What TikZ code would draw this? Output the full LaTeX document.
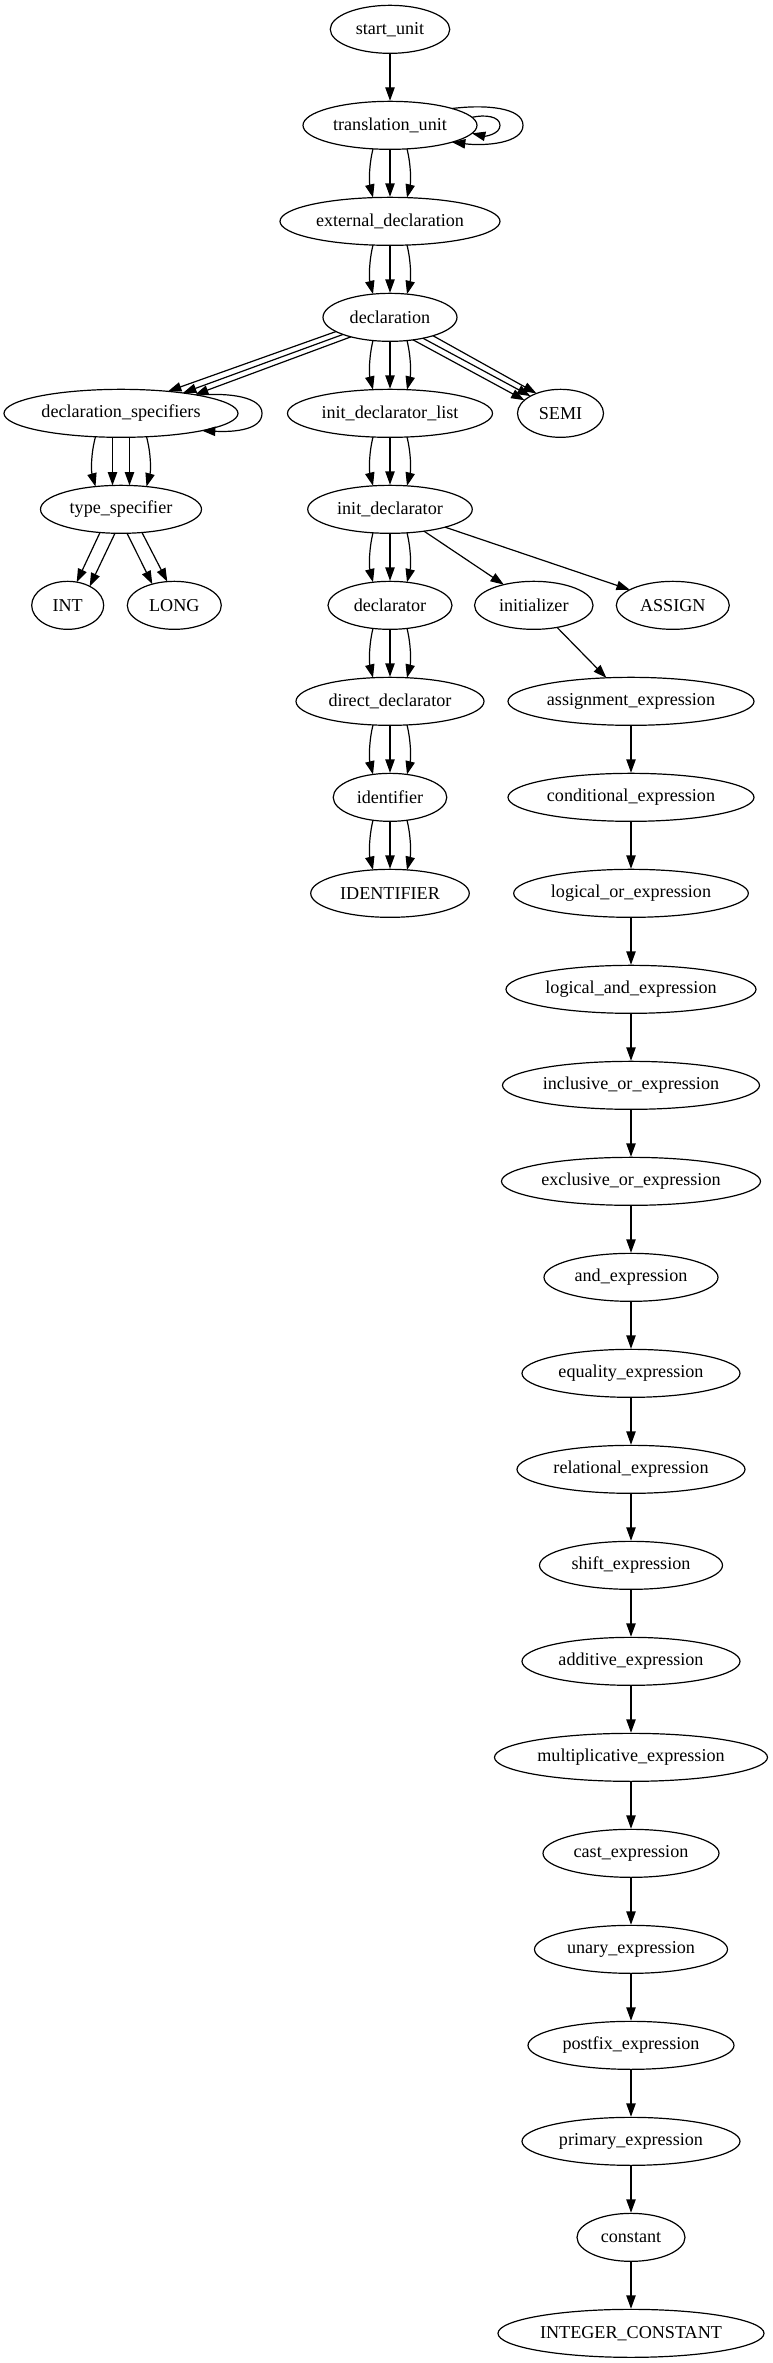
\documentclass[tikz,border=0pt]{standalone}
\usepackage{fontspec}
\setmainfont{Liberation Serif}
\usetikzlibrary{shapes.geometric,arrows.meta,calc}
\newcommand\gvtriple[4]{%
  \draw[gvedge] ($(#1)+(-17,#3)$) .. controls ($(#1)+(-21,#3+16)$) and ($(#2)+(-21,-#4-16)$) .. ($(#2)+(-17,-#4)$);
  \draw[gvedge] (#1) -- (#2);
  \draw[gvedge] ($(#1)+(17,#3)$) .. controls ($(#1)+(21,#3+16)$) and ($(#2)+(21,-#4-16)$) .. ($(#2)+(17,-#4)$);}
\begin{document}
\begin{tikzpicture}[x=0.75pt,y=-0.75pt,
  gv/.style={draw, ellipse, line width=0.9pt, inner sep=0pt, minimum height=36pt, font=\fontsize{13.6}{16}\selectfont},
  gvedge/.style={line width=0.9pt, -{Triangle[length=10pt,width=7pt]}}]
\useasboundingbox[fill=white] (0,0) rectangle (773,2363);
% nodes
\node[gv, minimum width=89.6pt]   (su)   at (390,29.33)   {\makebox[0pt]{start\_unit}};
\node[gv, minimum width=130.5pt]  (tu)   at (390,125.33)  {\makebox[0pt]{translation\_unit}};
\node[gv, minimum width=165pt]    (ed)   at (390,221.33)  {\makebox[0pt]{external\_declaration}};
\node[gv, minimum width=100.5pt]  (dc)   at (390,317.33)  {\makebox[0pt]{declaration}};
\node[gv, minimum width=175.5pt]  (ds)   at (121,413.33)  {\makebox[0pt]{declaration\_specifiers}};
\node[gv, minimum width=153.75pt] (idl)  at (390,413.33)  {\makebox[0pt]{init\_declarator\_list}};
\node[gv, minimum width=64.5pt]   (semi) at (560.5,413.33) {\makebox[0pt]{SEMI}};
\node[gv, minimum width=120.75pt] (ts)   at (121,509.33)  {\makebox[0pt]{type\_specifier}};
\node[gv, minimum width=123.4pt]  (ind)  at (390,509.33)  {\makebox[0pt]{init\_declarator}};
\node[gv, minimum width=54pt]     (int)  at (67.7,605.33) {\makebox[0pt]{INT}};
\node[gv, minimum width=70.5pt]   (long) at (174.3,605.33) {\makebox[0pt]{LONG}};
\node[gv, minimum width=93pt]     (dr)   at (390,605.33)  {\makebox[0pt]{declarator}};
\node[gv, minimum width=88.9pt]   (ini)  at (533.8,605.33) {\makebox[0pt]{initializer}};
\node[gv, minimum width=84.75pt]  (asg)  at (672.8,605.33) {\makebox[0pt]{ASSIGN}};
\node[gv, minimum width=141pt]    (dd)   at (390,701.33)  {\makebox[0pt]{direct\_declarator}};
\node[gv, minimum width=184.5pt]  (ae)   at (631,701.33)  {\makebox[0pt]{assignment\_expression}};
\node[gv, minimum width=85.2pt]   (id)   at (390,797.33)  {\makebox[0pt]{identifier}};
\node[gv, minimum width=184.5pt]  (ce)   at (631,797.33)  {\makebox[0pt]{conditional\_expression}};
\node[gv, minimum width=118.9pt]  (ID)   at (390,893.33)  {\makebox[0pt]{IDENTIFIER}};
\node[gv, minimum width=176pt]    (lor)  at (631,893.33)  {\makebox[0pt]{logical\_or\_expression}};
\node[gv, minimum width=187.5pt]  (land) at (631,989.33)  {\makebox[0pt]{logical\_and\_expression}};
\node[gv, minimum width=192.75pt] (ior)  at (631,1085.33) {\makebox[0pt]{inclusive\_or\_expression}};
\node[gv, minimum width=194.25pt] (xor)  at (631,1181.33) {\makebox[0pt]{exclusive\_or\_expression}};
\node[gv, minimum width=130.5pt]  (and)  at (631,1277.33) {\makebox[0pt]{and\_expression}};
\node[gv, minimum width=163.5pt]  (eq)   at (631,1373.33) {\makebox[0pt]{equality\_expression}};
\node[gv, minimum width=171pt]    (rel)  at (631,1469.33) {\makebox[0pt]{relational\_expression}};
\node[gv, minimum width=137.25pt] (sh)   at (631,1565.33) {\makebox[0pt]{shift\_expression}};
\node[gv, minimum width=163.5pt]  (add)  at (631,1661.33) {\makebox[0pt]{additive\_expression}};
\node[gv, minimum width=204.75pt] (mul)  at (631,1757.33) {\makebox[0pt]{multiplicative\_expression}};
\node[gv, minimum width=132pt]    (cast) at (631,1853.33) {\makebox[0pt]{cast\_expression}};
\node[gv, minimum width=144.75pt] (un)   at (631,1949.33) {\makebox[0pt]{unary\_expression}};
\node[gv, minimum width=154.5pt]  (pf)   at (631,2045.33) {\makebox[0pt]{postfix\_expression}};
\node[gv, minimum width=163.5pt]  (pr)   at (631,2141.33) {\makebox[0pt]{primary\_expression}};
\node[gv, minimum width=81pt]     (cn)   at (631,2237.33) {\makebox[0pt]{constant}};
\node[gv, minimum width=199.5pt]  (ic)   at (631,2333.33) {\makebox[0pt]{INTEGER\_CONSTANT}};
% edges
\draw[gvedge] (su) -- (tu);
% self loops on translation_unit
\draw[gvedge] ($(tu)+(62,-16.8)$) .. controls ($(tu)+(95,-21)$) and ($(tu)+(133,-18)$) .. ($(tu)+(133,0)$) .. controls ($(tu)+(133,18)$) and ($(tu)+(95,21)$) .. ($(tu)+(62,16.8)$);
\draw[gvedge] ($(tu)+(82,-8)$) .. controls ($(tu)+(95,-11)$) and ($(tu)+(110,-9)$) .. ($(tu)+(110,0)$) .. controls ($(tu)+(110,9)$) and ($(tu)+(95,11)$) .. ($(tu)+(82,8)$);
\gvtriple{tu}{ed}{23.54}{23.71}
\gvtriple{ed}{dc}{23.71}{23.21}
\gvtriple{dc}{idl}{23.21}{23.67}
\gvtriple{idl}{ind}{23.67}{23.48}
\gvtriple{ind}{dr}{23.48}{23.08}
\gvtriple{dr}{dd}{23.08}{23.6}
\gvtriple{dd}{id}{23.6}{22.9}
\gvtriple{id}{ID}{22.9}{23.44}
% declaration -> declaration_specifiers
\draw[gvedge] ($(dc)+(-54,14.2)$) -- ($(ds)+(47,-22)$);
\draw[gvedge] ($(dc)+(-47,17.1)$) -- ($(ds)+(62,-20.4)$);
\draw[gvedge] ($(dc)+(-39,19.5)$) -- ($(ds)+(74,-18.6)$);
% declaration -> SEMI
\draw[gvedge] ($(dc)+(23,22.5)$) -- ($(semi)+(-36,-13.1)$);
\draw[gvedge] ($(dc)+(33,20.9)$) -- ($(semi)+(-30,-17.2)$);
\draw[gvedge] ($(dc)+(43,18.4)$) -- ($(semi)+(-24,-19.9)$);
% self loop on declaration_specifiers
\draw[gvedge] ($(ds)+(76,-18.2)$) .. controls ($(ds)+(110,-21)$) and ($(ds)+(141,-16)$) .. ($(ds)+(141,0)$) .. controls ($(ds)+(141,16)$) and ($(ds)+(115,19)$) .. ($(ds)+(81,17.3)$);
% declaration_specifiers -> type_specifier
\draw[gvedge] ($(ds)+(-25.5,23.42)$) .. controls ($(ds)+(-30,40)$) and ($(ts)+(-30,-39)$) .. ($(ts)+(-25.5,-22.77)$);
\draw[gvedge] ($(ds)+(-8.5,23.94)$) -- ($(ts)+(-8.5,-23.87)$);
\draw[gvedge] ($(ds)+(8.5,23.94)$) -- ($(ts)+(8.5,-23.87)$);
\draw[gvedge] ($(ds)+(25.5,23.42)$) .. controls ($(ds)+(30,40)$) and ($(ts)+(30,-39)$) .. ($(ts)+(25.5,-22.77)$);
% type_specifier -> INT, LONG
\draw[gvedge] ($(ts)+(-21,23.2)$) -- ($(int)+(9,-23.2)$);
\draw[gvedge] ($(ts)+(-6,23.9)$) -- ($(int)+(22,-19)$);
\draw[gvedge] ($(ts)+(6,23.9)$) -- ($(long)+(-22,-21.2)$);
\draw[gvedge] ($(ts)+(21,23.2)$) -- ($(long)+(-7,-23.7)$);
% init_declarator -> initializer, ASSIGN
\draw[gvedge] ($(ind)+(34,21.8)$) -- ($(ini)+(-30,-20.7)$);
\draw[gvedge] ($(ind)+(55,17.8)$) -- ($(asg)+(-43,-15.6)$);
% initializer -> assignment_expression
\draw[gvedge] ($(ini)+(23.2,22)$) -- ($(ae)+(-24.6,-23.5)$);
% expression chain
\foreach \a/\b in {ae/ce, ce/lor, lor/land, land/ior, ior/xor, xor/and, and/eq, eq/rel, rel/sh, sh/add, add/mul, mul/cast, cast/un, un/pf, pf/pr, pr/cn, cn/ic}
  \draw[gvedge] (\a) -- (\b);
\end{tikzpicture}
\end{document}
